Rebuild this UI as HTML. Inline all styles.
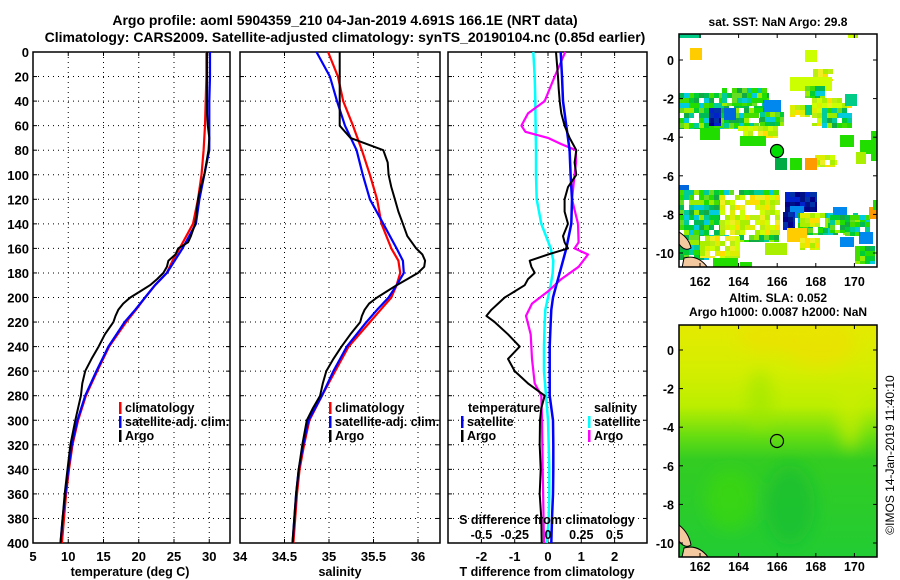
<!DOCTYPE html>
<html><head><meta charset="utf-8">
<style>
html,body{margin:0;padding:0;background:#fff;}
svg{display:block;font-family:"Liberation Sans",sans-serif;font-weight:bold;}
</style></head>
<body>
<svg id="fig" width="900" height="580" viewBox="0 0 900 580" xmlns="http://www.w3.org/2000/svg">
<rect width="900" height="580" fill="#fff"/>
<text x="345" y="25" font-size="14" text-anchor="middle">Argo profile: aoml 5904359_210 04-Jan-2019 4.691S 166.1E (NRT data)</text>
<text x="345" y="42" font-size="14" text-anchor="middle">Climatology: CARS2009. Satellite-adjusted climatology: synTS_20190104.nc (0.85d earlier)</text>
<g id="g1"></g>
<g id="g2"></g>
<g id="g3"></g>
<g id="m1"></g>
<g id="m2"></g>
<text x="778" y="26" font-size="12" text-anchor="middle">sat. SST: NaN Argo: 29.8</text>
<text x="778" y="302" font-size="12" text-anchor="middle">Altim. SLA: 0.052</text>
<text x="778" y="316" font-size="12" text-anchor="middle">Argo h1000: 0.0087 h2000: NaN</text>
<text transform="translate(894,455) rotate(-90)" font-size="12" font-weight="normal" text-anchor="middle">©IMOS 14-Jan-2019 11:40:10</text>
</svg>
<script>
// ---- data ----
const depthClim=[0,20,40,60,80,100,120,140,160,170,180,190,200,210,220,240,260,280,300,320,340,360,380,400];
const depthArgo=[0,10,20,30,40,50,60,70,80,90,100,110,120,130,140,150,155,160,165,170,175,180,185,190,195,200,205,210,215,220,230,240,250,260,270,280,290,300,320,340,360,380,400];
const tempClim=[29.6,29.6,29.5,29.4,29.2,28.9,28.4,27.7,25.8,24.8,24.0,22.3,20.9,19.6,18.2,15.8,14.1,12.5,11.4,10.6,10.1,9.7,9.4,9.1];
const tempSat=[30.1,30.1,30.0,30.0,30.0,29.3,28.6,28.1,26.2,25.1,24.0,22.3,20.9,19.5,18.0,15.7,14.0,12.4,11.3,10.5,10.0,9.6,9.2,8.9];
const tempArgo=[29.7,29.7,29.7,29.7,29.7,29.7,29.8,30.0,29.9,29.6,29.3,28.8,28.4,28.2,28.0,27.4,27.0,25.6,25.2,24.2,24.0,23.5,22.6,21.6,20.2,18.8,17.8,17.1,16.7,16.4,15.2,14.3,13.3,12.4,12.0,11.8,11.4,11.0,10.3,9.9,9.5,9.2,8.9];
const salClim=[34.99,35.1,35.16,35.27,35.37,35.46,35.54,35.59,35.70,35.78,35.80,35.76,35.70,35.58,35.46,35.22,35.07,34.92,34.78,34.72,34.67,34.64,34.62,34.60];
const salSat=[34.86,35.01,35.09,35.18,35.31,35.38,35.46,35.61,35.76,35.83,35.84,35.76,35.67,35.54,35.42,35.2,35.05,34.92,34.77,34.71,34.66,34.63,34.61,34.59];
const salArgo=[35.12,35.12,35.12,35.12,35.12,35.12,35.12,35.24,35.61,35.66,35.67,35.70,35.74,35.78,35.83,35.88,35.93,35.98,36.05,36.08,36.07,36.0,35.88,35.76,35.65,35.54,35.45,35.40,35.37,35.35,35.24,35.14,35.05,34.97,34.93,34.90,34.82,34.75,34.70,34.66,34.63,34.61,34.59];
const tDiffArgo=[0.24,0.27,0.3,0.32,0.35,0.4,0.5,0.65,0.85,0.8,0.85,0.6,0.5,0.5,0.6,0.45,0.5,0.6,0.0,-0.55,-0.5,-0.4,-0.6,-0.7,-1.0,-1.3,-1.5,-1.7,-1.85,-1.6,-1.2,-0.85,-1.2,-1.0,-0.6,-0.1,-0.2,-0.24,-0.25,-0.22,-0.25,-0.2,-0.19];
const tDiffSat=[0.38,0.42,0.45,0.55,0.65,0.68,0.72,0.7,0.55,0.45,0.35,0.25,0.15,0.1,0.08,0.05,0.05,0.05,0.15,0.16,0.16,0.15,0.12,0.1];
const sDiffSat=[-0.11,-0.1,-0.095,-0.093,-0.09,-0.09,-0.085,-0.05,0.02,0.04,0.035,0.02,0.0,-0.02,-0.025,-0.03,-0.03,-0.015,0.0,0.005,0.01,0.01,0.005,-0.01];
const depthSArgo=[0,20,40,50,60,65,70,75,80,90,100,120,140,155,160,165,175,185,195,205,215,230,250,270,280,300,340,400];
const sDiffArgo=[0.13,0.05,-0.025,-0.15,-0.2,-0.17,0,0.1,0.21,0.21,0.2,0.18,0.225,0.23,0.2,0.3,0.23,0.1,0.0,-0.12,-0.165,-0.13,-0.12,-0.1,-0.05,-0.045,-0.04,-0.03];
const depthTicks=[0,20,40,60,80,100,120,140,160,180,200,220,240,260,280,300,320,340,360,380,400];
const tempTicks=[5,10,15,20,25,30];
const salTicks=[34,34.5,35,35.5,36];
const salTickLabels=["34","34.5","35","35.5","36"];
const tDiffTicks=[-2,-1,0,1,2];
const sDiffTicks=[-0.5,-0.25,0,0.25,0.5];
const sDiffTickLabels=["-0.5","-0.25","0","0.25","0.5"];
const latTicks=[0,-2,-4,-6,-8,-10];
const lonTicks=[162,164,166,168,170];

const NS="http://www.w3.org/2000/svg";
function mk(parent,tag,attrs){const e=document.createElementNS(NS,tag);for(const k in attrs)e.setAttribute(k,attrs[k]);parent.appendChild(e);return e;}
const TOP=52,BOT=543;
const yD=d=>TOP+d*(BOT-TOP)/400;

function panel(g,x0,x1,xs,xticks,xlabels,showY){
  xticks.forEach(v=>{const x=xs(v);if(x>x0+1&&x<x1-1){const l=mk(g,'line',{x1:x,x2:x,y1:TOP,y2:BOT,stroke:'#000','stroke-dasharray':'1,4'});}});
  depthTicks.forEach(d=>{const y=yD(d);if(d>0&&d<400){const l=mk(g,'line',{x1:x0,x2:x1,y1:y,y2:y,stroke:'#000','stroke-dasharray':'1,4'});}
    mk(g,'line',{x1:x0,x2:x0+4,y1:y,y2:y,stroke:'#000'});mk(g,'line',{x1:x1-4,x2:x1,y1:y,y2:y,stroke:'#000'});
    if(showY){const t=mk(g,'text',{x:x0-4,y:y+5,'font-size':13,'text-anchor':'end'});t.textContent=d;}});
  xticks.forEach((v,i)=>{const x=xs(v);mk(g,'line',{x1:x,x2:x,y1:BOT-4,y2:BOT,stroke:'#000'});mk(g,'line',{x1:x,x2:x,y1:TOP,y2:TOP+4,stroke:'#000'});
    const t=mk(g,'text',{x:x,y:561,'font-size':13,'text-anchor':'middle'});t.textContent=xlabels[i];});
  const r=mk(g,'rect',{x:x0,y:TOP,width:x1-x0,height:BOT-TOP,fill:'none',stroke:'#000','stroke-width':1.5});
  
}
function series(g,ds,vs,xs,color,w,name){
  const p=ds.map((d,i)=>(i?'L':'M')+xs(vs[i]).toFixed(1)+','+yD(d).toFixed(1)).join('');
  const e=mk(g,'path',{d:p,fill:'none',stroke:color,'stroke-width':w,'stroke-linejoin':'round'});
  
}
function legend(g,x,y,items){
  items.forEach((it,i)=>{if(it.c)mk(g,'rect',{x:x,y:y+i*14-10,width:2.5,height:12,fill:it.c});
    const t=mk(g,'text',{x:x+(it.c?6:0),y:y+i*14,'font-size':12.5});t.textContent=it.t;});
}
function txt(g,x,y,s,anchor,size,name){const t=mk(g,'text',{x:x,y:y,'font-size':size,'text-anchor':anchor});t.textContent=s;}

const g1=document.getElementById('g1');
const xT=v=>33+(v-5)*7.05;
panel(g1,33,230,xT,tempTicks,tempTicks.map(String),true);
series(g1,depthClim,tempClim,xT,'#f00',2.2,'temperature-climatology-line');
series(g1,depthClim,tempSat,xT,'#00f',2.2,'temperature-satellite-line');
series(g1,depthArgo,tempArgo,xT,'#000',2,'temperature-argo-line');
legend(g1,119,412,[{c:'#f00',t:'climatology'},{c:'#00f',t:'satellite-adj. clim.'},{c:'#000',t:'Argo'}]);
txt(g1,130,576,'temperature (deg C)','middle',12.5,'x-axis-title');

const g2=document.getElementById('g2');
const xS=v=>240+(v-34)*89;
panel(g2,240,440,xS,salTicks,salTickLabels,false);
series(g2,depthClim,salClim,xS,'#f00',2.2,'salinity-climatology-line');
series(g2,depthClim,salSat,xS,'#00f',2.2,'salinity-satellite-line');
series(g2,depthArgo,salArgo,xS,'#000',2,'salinity-argo-line');
legend(g2,329,412,[{c:'#f00',t:'climatology'},{c:'#00f',t:'satellite-adj. clim.'},{c:'#000',t:'Argo'}]);
txt(g2,340,576,'salinity','middle',12.5,'x-axis-title');

const g3=document.getElementById('g3');
const xTD=v=>548+v*33.3;
const xSD=v=>548+v*133.2;
panel(g3,448,647,xTD,tDiffTicks,tDiffTicks.map(String),false);
series(g3,depthClim,sDiffSat,xSD,'#0ff',2.5,'salinity-satellite-diff-line');
series(g3,depthSArgo,sDiffArgo,xSD,'#f0f',2.2,'salinity-argo-diff-line');
series(g3,depthClim,tDiffSat,xTD,'#00f',2.5,'temperature-satellite-diff-line');
series(g3,depthArgo,tDiffArgo,xTD,'#000',2,'temperature-argo-diff-line');
legend(g3,468,412,[{t:'temperature'}]);legend(g3,461,426,[{c:'#00f',t:'satellite'},{c:'#000',t:'Argo'}]);
legend(g3,594,412,[{t:'salinity'}]);legend(g3,588,426,[{c:'#0ff',t:'satellite'},{c:'#f0f',t:'Argo'}]);
txt(g3,547,524,'S difference from climatology','middle',12.5,'s-axis-title');
sDiffTicks.forEach((v,i)=>txt(g3,xSD(v),539,sDiffTickLabels[i],'middle',12.5,'s-tick-label'));
txt(g3,547,576,'T difference from climatology','middle',12.5,'x-axis-title');

function mapFrame(g,x0,y0,y1,lat0y,labelY){
  const lonX=l=>700+(l-162)*19.3, latY=a=>lat0y-a*19.3;
  latTicks.forEach(a=>{const y=latY(a);mk(g,'line',{x1:x0,x2:x0+4,y1:y,y2:y,stroke:'#000'});mk(g,'line',{x1:877-4,x2:877,y1:y,y2:y,stroke:'#000'});
    const t=mk(g,'text',{x:674,y:y+5,'font-size':12.5,'text-anchor':'end'});t.textContent=a;});
  lonTicks.forEach(l=>{const x=lonX(l);mk(g,'line',{x1:x,x2:x,y1:y1-4,y2:y1,stroke:'#000'});mk(g,'line',{x1:x,x2:x,y1:y0,y2:y0+4,stroke:'#000'});
    const t=mk(g,'text',{x:x,y:labelY,'font-size':12.5,'text-anchor':'middle'});t.textContent=l;});
  const r=mk(g,'rect',{x:x0,y:y0,width:877-x0,height:y1-y0,fill:'none',stroke:'#000','stroke-width':1.5});
  
}
const PAL={G:['#00cc33','#22dd00','#00bb55','#66dd22','#00cc99','#99ee00','#00ccdd','#11aa44','#44dd00','#ffffff'],
 Y:['#ccff00','#ddee00','#eeee22','#ffdd00','#bbee11','#aaee00','#ffffff'],N:['#001188','#000088','#0033aa','#0022cc'],
 B:['#0088ee','#0066dd'],O:['#ffcc00','#ff9900','#ffbb11'],L:['#ccff00','#aaee00'],T:['#00cc88'],D:['#00aa44'],E:['#22dd00']};
const blocks=[[679,34,22,4,'T'],[690,48,12,12,'O'],[805,50,12,12,'L'],[813,69,20,12,'Y'],[790,77,42,14,'L'],[805,86,20,12,'G'],[848,34,10,4,'Y'],
[679,93,90,36,'G'],[722,88,45,18,'G'],[709,108,12,18,'N'],[724,108,12,12,'B'],[700,128,20,12,'E'],[738,126,40,12,'Y'],[740,136,26,10,'E'],
[763,100,18,12,'B'],[760,112,24,14,'G'],[790,105,20,12,'Y'],[805,105,10,10,'T'],[812,98,40,28,'Y'],[822,108,30,20,'G'],[845,94,12,12,'T'],
[840,135,14,12,'E'],[871,131,6,30,'E'],[860,140,14,14,'E'],[856,152,10,12,'L'],[815,155,22,12,'Y'],
[775,158,12,12,'D'],[790,158,12,12,'E'],[805,158,12,12,'O'],
[679,185,10,12,'B'],[679,190,100,52,'G'],[720,195,60,40,'Y'],[679,220,30,40,'G'],[700,236,40,22,'Y'],[713,258,25,9,'E'],[740,262,12,5,'E'],
[785,192,32,20,'N'],[790,206,14,12,'B'],[783,212,12,18,'N'],[798,213,60,22,'G'],[800,213,25,14,'Y'],[787,228,20,14,'O'],[800,238,20,12,'Y'],
[765,243,22,12,'L'],[833,207,14,12,'B'],[830,215,40,18,'G'],[845,222,25,14,'G'],[855,246,20,18,'G'],[840,237,14,10,'B'],[859,232,14,12,'B'],[869,207,8,12,'O'],[873,200,4,10,'E']];
function hash(i,j,k){let h=(i*73856093)^(j*19349663)^(k*83492791);h=(h^(h>>>13))*1274126177;return Math.abs(h^(h>>>16));}
const m1=document.getElementById('m1');
const clip1=mk(m1,'clipPath',{id:'c1'});mk(clip1,'rect',{x:679,y:34,width:198,height:233});
const cells=mk(m1,'g',{'clip-path':'url(#c1)'});
blocks.forEach((b,k)=>{const p=PAL[b[4]];const big=p.length>3;const s=big?5:b[2];const sh=big?5:b[3];
  for(let x=b[0];x<b[0]+b[2];x+=s)for(let y=b[1];y<b[1]+b[3];y+=sh){
    const c=p[hash(x,y,k)%p.length];mk(cells,'rect',{x:x,y:y,width:Math.min(s,b[0]+b[2]-x),height:Math.min(sh,b[1]+b[3]-y),fill:c});}});
mk(cells,'path',{d:'M679,232 q10,6 12,16 q-6,4 -12,-4 z M684,258 q14,-4 24,10 l-26,0 z',fill:'#f5c9a0',stroke:'#000','stroke-width':1});
const a1=mk(m1,'circle',{cx:777,cy:151,r:6.5,fill:'#00dd00',stroke:'#000','stroke-width':1.2});

mapFrame(m1,679,34,267,60,286);

const m2=document.getElementById('m2');
const defs2=mk(m2,'defs',{});
const gr=mk(defs2,'linearGradient',{id:'lg2',x1:0,y1:0,x2:0,y2:1});
[[0,'#e4ea00'],[0.2,'#d4ee00'],[0.35,'#bbee00'],[0.48,'#66dd11'],[0.58,'#33cc22'],[1,'#22cc33']].forEach(s=>mk(gr,'stop',{offset:s[0],'stop-color':s[1]}));
const bl=mk(defs2,'filter',{id:'bl',x:'-50%',y:'-50%',width:'200%',height:'200%'});mk(bl,'feGaussianBlur',{stdDeviation:8});
const clip2=mk(m2,'clipPath',{id:'c2'});mk(clip2,'rect',{x:679,y:325,width:198,height:232});
const f=mk(m2,'g',{'clip-path':'url(#c2)'});
mk(f,'rect',{x:679,y:325,width:198,height:232,fill:'url(#lg2)'});
const fb=mk(f,'g',{filter:'url(#bl)'});
mk(fb,'ellipse',{cx:768,cy:338,rx:30,ry:14,fill:'#f0dd00',opacity:0.6});
mk(fb,'ellipse',{cx:820,cy:345,rx:35,ry:22,fill:'#f0dd00',opacity:0.6});
mk(fb,'ellipse',{cx:850,cy:410,rx:12,ry:40,fill:'#ccee00',opacity:0.7});
mk(fb,'ellipse',{cx:760,cy:400,rx:12,ry:30,fill:'#99e600',opacity:0.6});
mk(fb,'ellipse',{cx:790,cy:505,rx:25,ry:40,fill:'#11bb33',opacity:0.6});
mk(fb,'ellipse',{cx:730,cy:500,rx:25,ry:30,fill:'#44dd00',opacity:0.5});
mk(f,'path',{d:'M679,525 q10,8 12,20 q-6,4 -12,-4 z M684,548 q14,-4 24,9 l-26,0 z',fill:'#f5c9a0',stroke:'#000','stroke-width':1});
const a2=mk(m2,'circle',{cx:777,cy:441,r:6.5,fill:'none',stroke:'#000','stroke-width':1.2});

mapFrame(m2,679,325,557,350,571);
</script>
</body></html>
